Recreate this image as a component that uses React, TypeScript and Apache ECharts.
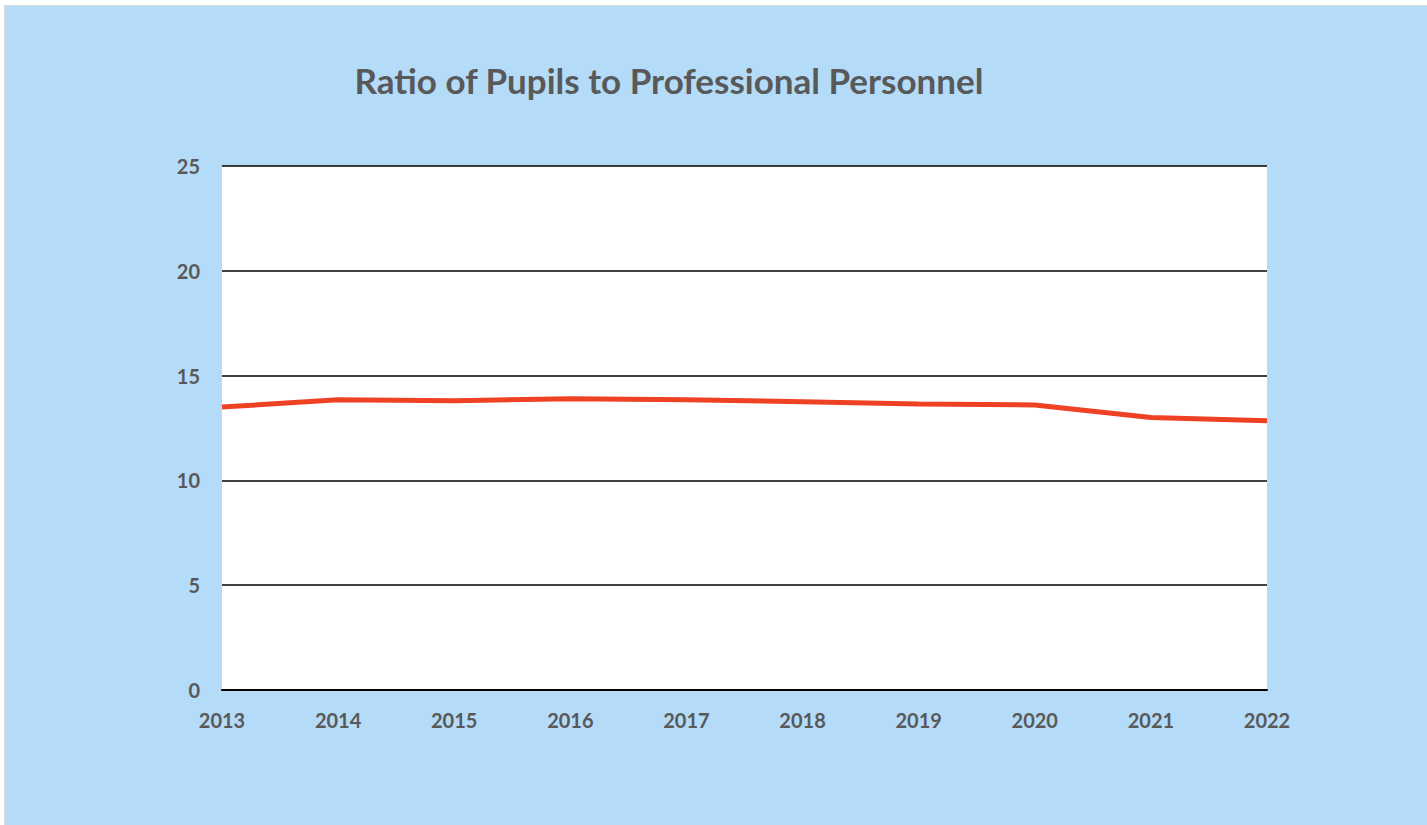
import React, { useEffect, useRef } from "react";
import * as echarts from "echarts";

const years = ["2013", "2014", "2015", "2016", "2017", "2018", "2019", "2020", "2021", "2022"];
const ratio = [13.5, 13.85, 13.8, 13.9, 13.85, 13.75, 13.65, 13.6, 13.0, 12.85];
const titleText = "Ratio of Pupils to Professional Personnel";

export default function App() {
  const ref = useRef<HTMLDivElement>(null);
  useEffect(() => {
    const chart = echarts.init(ref.current!, null, { renderer: "svg" });
    chart.setOption({
      animation: false,
      backgroundColor: "transparent",
      title: {
        text: titleText,
        left: 664 - 5,
        top: 57 - 6,
        textAlign: "center",
        textStyle: { fontFamily: "Lato", fontWeight: "bold", fontSize: 35, color: "#595959" },
      },
      grid: {
        left: 222 - 5,
        right: 1427 - 1267,
        top: 166 - 6,
        bottom: 825 - 690,
        show: true,
        backgroundColor: "#ffffff",
        borderWidth: 0,
      },
      xAxis: {
        type: "category",
        data: years,
        boundaryGap: false,
        axisLine: { show: true, lineStyle: { color: "#000000", width: 2 } },
        axisTick: { show: false },
        axisLabel: {
          margin: 20,
          fontFamily: "Lato",
          fontWeight: "bold",
          fontSize: 20,
          color: "#595959",
        },
      },
      yAxis: {
        type: "value",
        min: 0,
        max: 25,
        interval: 5,
        axisLine: { show: false },
        axisTick: { show: false },
        splitLine: { lineStyle: { color: "#000000", width: 1.5 } },
        axisLabel: {
          margin: 22,
          fontFamily: "Lato",
          fontWeight: "bold",
          fontSize: 20,
          color: "#595959",
        },
      },
      series: [
        {
          type: "line",
          data: ratio,
          symbol: "none",
          lineStyle: { color: "#ef4123", width: 5 },
        },
      ],
    });
    return () => chart.dispose();
  }, []);
  return (
    <div style={{ position: "fixed", left: 0, top: 0, width: 1427, height: 825, background: "#ffffff" }}>
      <div
        style={{
          position: "absolute",
          left: 4,
          top: 5,
          width: 1423,
          height: 820,
          boxSizing: "border-box",
          borderLeft: "1px solid #d9d9d9",
          borderTop: "1px solid #d9d9d9",
          background: "#b4dbf8",
        }}
      >
        <div ref={ref} style={{ position: "absolute", left: 0, top: 0, width: 1422, height: 819 }} />
      </div>
    </div>
  );
}
